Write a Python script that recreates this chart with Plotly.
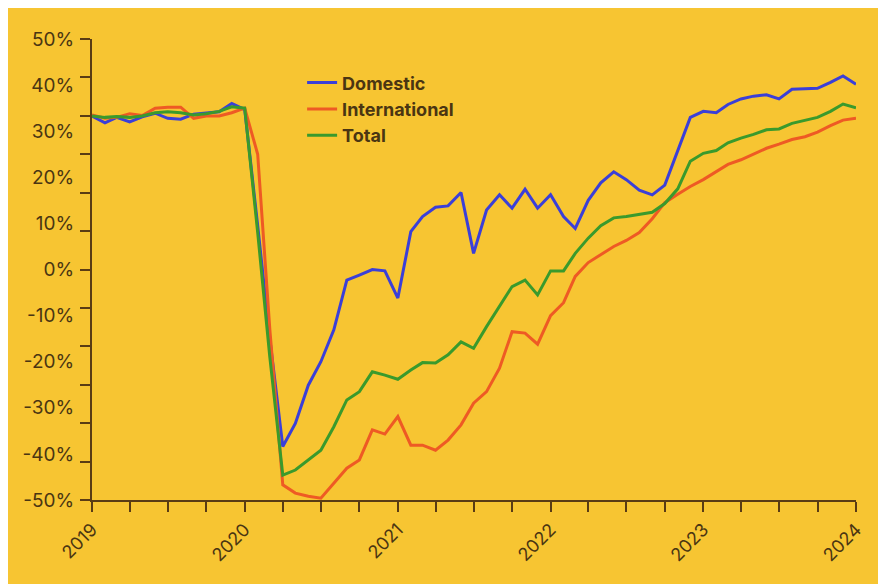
import pandas as pd
import plotly.graph_objects as go

months = pd.date_range("2019-01-01", "2024-01-01", freq="MS")

domestic = [
    33.3, 31.8, 33.0, 32.0, 33.1, 33.9, 32.8, 32.6, 33.7, 33.9, 34.2, 36.0,
    34.7, 9.5, -15.0, -38.4, -33.4, -25.1, -20.0, -13.1, -2.3, -1.2, 0.0, -0.3,
    -6.2, 8.2, 11.5, 13.5, 13.8, 16.7, 3.5, 12.9, 16.2, 13.3, 17.4, 13.3,
    16.2, 11.5, 8.9, 15.0, 18.8, 21.2, 19.5, 17.2, 16.2, 18.3, 26.0, 33.0,
    34.3, 34.0, 35.8, 37.0, 37.6, 37.9, 37.0, 39.1, 39.2, 39.3, 40.6, 42.0,
    40.2,
]
international = [
    33.5, 32.8, 33.0, 33.8, 33.4, 35.0, 35.2, 35.2, 32.8, 33.3, 33.3, 34.0,
    35.0, 25.0, -13.0, -46.7, -48.5, -49.2, -49.6, -46.3, -43.1, -41.3, -34.8, -35.7,
    -31.9, -38.1, -38.1, -39.2, -37.0, -33.7, -29.0, -26.5, -21.4, -13.5, -13.8, -16.2,
    -10.0, -7.2, -1.5, 1.5, 3.2, 5.0, 6.3, 8.0, 11.0, 14.5, 16.3, 18.0,
    19.5, 21.3, 22.8, 23.8, 25.0, 26.3, 27.2, 28.2, 28.8, 29.8, 31.2, 32.4,
    32.8,
]
total = [
    33.3, 33.0, 33.2, 33.0, 33.3, 34.0, 34.2, 34.0, 33.5, 33.8, 34.3, 35.3,
    35.0, 8.0, -19.0, -44.6, -43.5, -41.3, -39.2, -34.1, -28.3, -26.5, -22.2, -22.9,
    -23.8, -21.8, -20.2, -20.3, -18.5, -15.7, -17.1, -12.4, -8.0, -3.7, -2.3, -5.5,
    -0.3, -0.3, 3.5, 6.8, 9.5, 11.2, 11.5, 11.9, 12.4, 14.3, 17.5, 23.5,
    25.2, 25.8, 27.5, 28.5, 29.3, 30.3, 30.5, 31.7, 32.3, 33.0, 34.3, 35.9,
    35.1,
]

series_names = ["Domestic", "International", "Total"]
series_values = [domestic, international, total]
series_colors = ["#3b3fd8", "#ee5a24", "#3a9a2c"]

y_label_vals = list(range(-50, 51, 10))
y_label_text = [f"{v}%" for v in y_label_vals]
y_tick_marks = [-50 + k * 100 / 12 for k in range(13)]

x_tick_marks = pd.date_range("2019-01-01", "2024-01-01", freq="QS")
x_tick_text = [d.strftime("%Y") if d.month == 1 else "" for d in x_tick_marks]

BG = "#f7c532"
AXIS = "#5a3c14"
TEXT = "#4a3512"
FONT = "Inter, Roboto, Arial, sans-serif"

fig = go.Figure()
for name, vals, col in zip(series_names, series_values, series_colors):
    fig.add_trace(go.Scatter(x=months, y=vals, mode="lines", name=name,
                             line=dict(color=col, width=3)))

# invisible trace to activate the overlay axis that carries the tick marks
fig.add_trace(go.Scatter(x=[months[0]], y=[0], yaxis="y2", mode="lines",
                         showlegend=False, hoverinfo="skip",
                         line=dict(color="rgba(0,0,0,0)")))

fig.update_layout(
    width=886, height=584,
    margin=dict(l=84, r=38, t=31, b=92),
    paper_bgcolor=BG,
    plot_bgcolor=BG,
    font=dict(family=FONT, color=TEXT, size=19),
    showlegend=True,
    legend=dict(x=0.275, y=0.945, xanchor="left", yanchor="top",
                bgcolor="rgba(0,0,0,0)",
                font=dict(size=18, color=TEXT, family=FONT, weight="bold"),
                itemwidth=30, tracegroupgap=0),
    xaxis=dict(
        type="date", range=[months[0], months[-1]],
        tickmode="array", tickvals=list(x_tick_marks), ticktext=x_tick_text,
        ticks="outside", ticklen=10, tickwidth=2, tickcolor=AXIS,
        tickangle=-45, tickfont=dict(size=18, color=TEXT),
        showline=True, linecolor=AXIS, linewidth=2,
        showgrid=False, zeroline=False,
    ),
    yaxis=dict(
        range=[-50, 50], tickmode="array", tickvals=y_label_vals,
        ticktext=y_label_text, ticks="outside", ticklen=10,
        tickcolor="rgba(0,0,0,0)", ticklabelstandoff=3,
        tickfont=dict(size=19, color=TEXT),
        showline=False, showgrid=False, zeroline=False,
    ),
    yaxis2=dict(
        range=[-50, 50], overlaying="y", side="left", anchor="x",
        tickmode="array", tickvals=y_tick_marks, showticklabels=False,
        ticks="outside", ticklen=10, tickwidth=2, tickcolor=AXIS,
        showline=True, linecolor=AXIS, linewidth=2,
        showgrid=False, zeroline=False,
    ),
)

fig.write_html("out.html")
